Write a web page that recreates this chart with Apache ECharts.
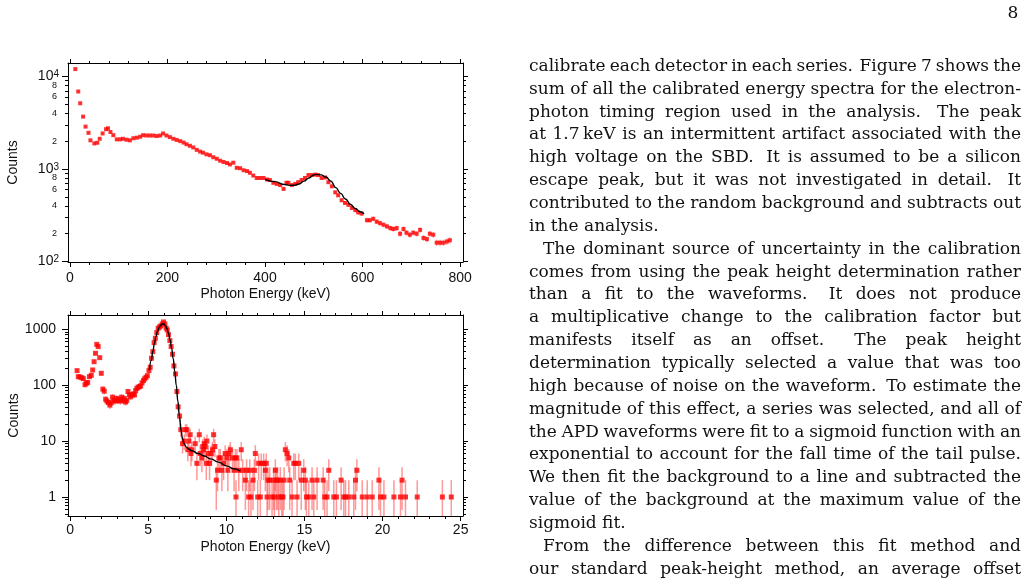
<!DOCTYPE html>
<html lang="en">
<head>
<meta charset="UTF-8"/>
<title>Calibrated energy spectra</title>
<script src="https://cdn.jsdelivr.net/npm/echarts@6/dist/echarts.min.js"></script>
<style>
    html, body { margin: 0; padding: 0; background: #fff; }
    #main { width: 1028px; height: 582px; }
</style>
</head>
<body>
<div id="main"></div>
<script type="text/javascript">
// ---- values ----
// top panel: 511 keV region spectrum (keV, counts)
var topEnergy = [11, 17, 21, 27, 32, 38, 42, 50, 56, 61, 67, 74, 78, 83, 89, 96, 103, 109, 116, 123,
    130, 137, 144, 150, 157, 164, 171, 178, 185, 191, 198, 205, 212, 219, 226, 233, 239, 246, 253, 260,
    267, 273, 280, 287, 294, 301, 308, 315, 322, 328, 335, 342, 349, 356, 363, 369, 376, 383, 390, 397,
    404, 410, 417, 424, 431, 438, 444, 448, 455, 462, 468, 475, 482, 489, 496, 503, 509, 516, 523, 530,
    537, 544, 550, 557, 564, 571, 578, 585, 591, 598, 609, 615, 622, 629, 636, 643, 650, 657, 663, 670,
    677, 684, 690, 697, 704, 711, 718, 725, 732, 738, 745, 752, 759, 766, 773, 779];
var topCounts = [12000, 6870, 5130, 3680, 2870, 2460, 2040, 1890, 1920, 2120, 2420, 2690, 2750, 2510, 2320, 2090, 2090, 2120, 2070, 2040,
    2150, 2180, 2230, 2320, 2300, 2300, 2300, 2270, 2300, 2420, 2300, 2210, 2120, 2060, 2000, 1930, 1850, 1780, 1710, 1610,
    1540, 1500, 1440, 1410, 1340, 1290, 1230, 1190, 1160, 1120, 1170, 1030, 1020, 970, 950, 910, 850, 800, 800, 800,
    770, 760, 710, 690, 670, 610, 710, 710, 670, 690, 720, 760, 800, 860, 860, 870, 860, 800, 810, 720,
    650, 560, 520, 460, 430, 410, 380, 360, 340, 330, 280, 280, 290, 270, 260, 250, 240, 230, 225, 230,
    200, 225, 205, 195, 205, 200, 220, 180, 175, 200, 195, 160, 160, 160, 165, 170];
var topFitEnergy = [400, 420, 440, 450, 460, 470, 480, 490, 500, 505, 515, 525, 535, 545, 555, 565, 575, 585, 595, 603];
var topFitCounts = [775, 730, 680, 665, 668, 690, 740, 800, 860, 875, 865, 820, 740, 630, 545, 475, 415, 375, 345, 329];

// bottom panel: low-energy spectrum (keV, counts)
var botEnergy = [0.45, 0.53, 0.64, 0.75, 0.85, 0.96, 1.04, 1.13, 1.24, 1.36, 1.45, 1.54, 1.63, 1.71, 1.80, 1.90, 2.00, 2.10, 2.19, 2.28,
    2.36, 2.45, 2.55, 2.63, 2.72, 2.80, 2.88, 2.97, 3.05, 3.14, 3.22, 3.30, 3.38, 3.47, 3.55, 3.63, 3.71, 3.80, 3.88, 3.96,
    4.05, 4.13, 4.20, 4.28, 4.36, 4.44, 4.52, 4.61, 4.70, 4.78, 4.86, 4.95, 5.05, 5.13, 5.21, 5.30, 5.38, 5.46, 5.55, 5.64,
    5.73, 5.81, 5.90, 5.98, 6.07, 6.15, 6.22, 6.30, 6.39, 6.47, 6.56, 6.65, 6.75, 6.84, 6.92, 7.01, 7.09];
var botCounts = [182, 142, 140, 136, 131, 102, 108, 112, 142, 150, 187, 263, 372, 537, 490, 311, 163, 85, 78, 56,
    52, 49, 44, 48, 61, 54, 52, 58, 53, 56, 52, 61, 54, 58, 50, 53, 77, 67, 62, 67,
    70, 67, 80, 88, 92, 94, 97, 110, 121, 130, 138, 148, 182, 209, 303, 398, 577, 690, 872, 1041,
    1100, 1147, 1245, 1352, 1245, 1050, 973, 803, 627, 490, 357, 221, 159, 77, 41, 28, 16];
var tailEnergy = [7.20, 7.31, 7.39, 7.48, 7.54, 7.61, 7.69, 7.74, 7.80, 8.01,
    8.12, 8.27, 8.33, 8.44, 8.50, 8.55, 8.59, 8.65, 8.72, 8.76,
    8.85, 8.93, 9.04, 9.12, 9.19, 9.27, 9.36, 9.44, 9.53, 9.62,
    9.72, 9.83, 9.93, 10.04, 10.10, 10.18, 10.26, 10.40, 10.50, 10.58,
    10.62, 10.68, 10.80, 10.96, 11.05, 11.22, 11.30, 11.43, 11.50, 11.58,
    11.71, 11.80, 11.86, 12.01, 12.07, 12.18, 12.24, 12.39, 12.50, 12.56,
    12.61, 12.67, 12.78, 12.93, 13.03, 13.08, 13.14, 13.20, 13.29, 13.36,
    13.46, 13.55, 13.63, 13.70, 13.78, 13.89, 14.00, 14.06, 14.21, 14.32,
    14.42, 14.53, 14.64, 14.80, 14.96, 15.06, 15.13, 15.28, 15.49, 15.60,
    15.81, 16.20, 16.30, 16.45, 16.56, 16.88, 17.05, 17.35, 17.52, 17.63,
    17.84, 18.16, 18.27, 18.36, 18.70, 19.02, 19.34, 19.77, 19.87, 20.09,
    20.73, 21.15, 21.25, 21.47, 22.22, 23.83, 24.40];
var tailCounts = [9, 10, 16, 16, 7, 10, 13, 6, 7, 9,
    4, 13, 6, 5, 8, 7, 9, 8, 4, 10,
    6, 4, 6, 7, 13, 8, 2, 3, 5, 5,
    3, 4, 6, 5, 3, 6, 7, 5, 3, 5,
    1, 5, 3, 7, 3, 2, 3, 1, 3, 1,
    2, 3, 6, 1, 4, 1, 4, 4, 3, 4,
    1, 2, 2, 1, 2, 1, 3, 2, 2, 1,
    2, 1, 1, 2, 7, 6, 5, 2, 1, 4,
    4, 1, 4, 2, 3, 2, 1, 1, 2, 1,
    2, 2, 1, 1, 3, 1, 1, 2, 1, 1,
    1, 1, 2, 3, 1, 1, 1, 2, 1, 1,
    1, 1, 2, 1, 1, 1, 1];
var botFitEnergy = [5.08, 5.2, 5.3, 5.4, 5.5, 5.6, 5.7, 5.8, 5.9, 6.0, 6.1, 6.2, 6.3, 6.4, 6.5, 6.6, 6.7, 6.8, 6.9, 7.0,
    7.1, 7.2, 7.3, 7.45, 7.6, 7.8, 8.2, 8.6, 9.0, 9.5, 10.0, 10.5, 10.9];
var botFitCounts = [185, 280, 400, 560, 740, 920, 1080, 1190, 1245, 1240, 1170, 1030, 850, 650, 460, 300, 180, 100, 52, 28,
    16, 11, 9, 7.8, 7.2, 6.7, 6.0, 5.4, 4.8, 4.2, 3.6, 3.2, 2.9];

// tick positions and labels
var topXMajor = [0, 200, 400, 600, 800];
var topXMinor = [40, 80, 120, 160, 240, 280, 320, 360, 440, 480, 520, 560, 640, 680, 720, 760];
var topYMajor = [100, 1000, 10000];
var topYMinor = [200, 300, 400, 500, 600, 700, 800, 900, 2000, 3000, 4000, 5000, 6000, 7000, 8000, 9000];
var topYSmallLabels = [200, 400, 600, 800, 2000, 4000, 6000, 8000];
var botXMajor = [0, 5, 10, 15, 20, 25];
var botXMinor = [1, 2, 3, 4, 6, 7, 8, 9, 11, 12, 13, 14, 16, 17, 18, 19, 21, 22, 23, 24];
var botYMajor = [1, 10, 100, 1000];
var botYMinor = [0.5, 0.6, 0.7, 0.8, 0.9, 2, 3, 4, 5, 6, 7, 8, 9, 20, 30, 40, 50, 60, 70, 80, 90, 200, 300, 400, 500, 600, 700, 800, 900];

var paragraphs = [
    {indent: false, open: false, lines: [
        'calibrate each detector in each series. Figure 7 shows the',
        'sum of all the calibrated energy spectra for the electron-',
        'photon timing region used in the analysis. The peak',
        'at 1.7\u2009keV is an intermittent artifact associated with the',
        'high voltage on the SBD. It is assumed to be a silicon',
        'escape peak, but it was not investigated in detail. It',
        'contributed to the random background and subtracts out',
        'in the analysis.']},
    {indent: true, open: false, lines: [
        'The dominant source of uncertainty in the calibration',
        'comes from using the peak height determination rather',
        'than a fit to the waveforms. It does not produce',
        'a multiplicative change to the calibration factor but',
        'manifests itself as an offset. The peak height',
        'determination typically selected a value that was too',
        'high because of noise on the waveform. To estimate the',
        'magnitude of this effect, a series was selected, and all of',
        'the APD waveforms were fit to a sigmoid function with an',
        'exponential to account for the fall time of the tail pulse.',
        'We then fit the background to a line and subtracted the',
        'value of the background at the maximum value of the',
        'sigmoid fit.']},
    {indent: true, open: true, lines: [
        'From the difference between this fit method and',
        'our standard peak-height method, an average offset']}
];

// ---- styling ----
var AX = '#000', TXT = '#111', SANS = '"Liberation Sans", Arial, sans-serif', SERIF = 'DejaVu Serif';
var TOP_X = [-4, 806], TOP_Y = [99, 13960], BOT_X = [-0.13, 25.15], BOT_Y = [0.457, 1800];

function zip(a, b) {
    return a.map(function (v, i) { return [v, b[i]]; });
}

function tick(vals, len) {
    return {show: true, customValues: vals, length: len, inside: false, lineStyle: {color: AX, width: 1}};
}

function xAxisSet(g, ext, major, minor, margin, nameGap) {
    var base = {type: 'value', gridIndex: g, min: ext[0], max: ext[1], splitLine: {show: false},
        axisLabel: {show: false}, axisLine: {show: false, onZero: false}};
    var line = {show: true, onZero: false, lineStyle: {color: AX, width: 1}};
    return [
        Object.assign({}, base, {position: 'bottom', axisLine: line, axisTick: tick(major, 5),
            axisLabel: {show: true, customValues: major, margin: margin, fontSize: 14, color: TXT, fontFamily: SANS,
                formatter: function (v) { return String(v); }},
            name: 'Photon Energy (keV)', nameLocation: 'middle', nameGap: nameGap,
            nameTextStyle: {fontSize: 14, color: TXT, fontFamily: SANS}}),
        Object.assign({}, base, {position: 'bottom', axisTick: tick(minor, 3)}),
        Object.assign({}, base, {position: 'top', axisLine: line, axisTick: tick(major, 4)}),
        Object.assign({}, base, {position: 'top', axisTick: tick(minor, 2)})
    ];
}

function yAxisSet(g, ext, major, minor, majorLabel, minorLabel, margin, nameGap) {
    var base = {type: 'log', gridIndex: g, min: ext[0], max: ext[1], splitLine: {show: false},
        axisLabel: {show: false}, axisLine: {show: false, onZero: false}};
    var line = {show: true, onZero: false, lineStyle: {color: AX, width: 1}};
    var left = Object.assign({}, base, {position: 'left', axisLine: line, axisTick: tick(major, 6),
        axisLabel: Object.assign({show: true, customValues: major, margin: margin, fontSize: 14, color: TXT, fontFamily: SANS}, majorLabel),
        name: 'Counts', nameLocation: 'middle', nameGap: nameGap,
        nameTextStyle: {fontSize: 14, color: TXT, fontFamily: SANS}});
    var leftMinor = Object.assign({}, base, {position: 'left', axisTick: tick(minor, 3)});
    if (minorLabel) {
        leftMinor.axisLabel = Object.assign({show: true, fontSize: 9, color: TXT, fontFamily: SANS}, minorLabel);
    }
    return [
        left,
        leftMinor,
        Object.assign({}, base, {position: 'right', axisLine: line, axisTick: tick(major, 5)}),
        Object.assign({}, base, {position: 'right', axisTick: tick(minor, 3)})
    ];
}

function errorBars(xi, yi, ext, color) {
    return {
        type: 'custom', xAxisIndex: xi, yAxisIndex: yi, silent: true,
        renderItem: function (params, api) {
            var x = api.value(0), y = api.value(1), e = Math.sqrt(y);
            var lo = Math.max(y - e, ext[0]), hi = Math.min(y + e, ext[1]);
            var p1 = api.coord([x, lo]), p2 = api.coord([x, hi]);
            return {type: 'line', shape: {x1: p1[0], y1: p1[1], x2: p2[0], y2: p2[1]},
                style: {stroke: color, lineWidth: 1.5}};
        }
    };
}

// ---- justified text column ----
var ctx = document.createElement('canvas').getContext('2d');
function measure(t, fs) { ctx.font = fs + 'px "' + SERIF + '"'; return ctx.measureText(t).width; }
var TX0 = 529, TX1 = 1021, INDENT = 14, LINE0 = 66.5, LEAD = 22.85;

function fits(size) {
    return paragraphs.every(function (p) {
        return p.lines.every(function (ln, i) {
            var words = ln.split(' ');
            var w = words.reduce(function (s, wd) { return s + measure(wd, size); }, 0) +
                (words.length - 1) * size * 0.24 + (p.indent && i === 0 ? INDENT : 0);
            return w <= TX1 - TX0;
        });
    });
}
var fs = 17.5;
while (!fits(fs) && fs > 12) fs -= 0.25;

var textEls = [];
var row = 0;
paragraphs.forEach(function (p) {
    p.lines.forEach(function (ln, i) {
        var words = ln.split(' ');
        var x0 = TX0 + (p.indent && i === 0 ? INDENT : 0);
        var widths = words.map(function (w) { return measure(w, fs); });
        var isLast = (i === p.lines.length - 1) && !p.open;
        var weights = words.slice(0, -1).map(function (w) { return /[.]$/.test(w) ? 1.6 : 1; });
        var free = TX1 - x0 - widths.reduce(function (s, v) { return s + v; }, 0);
        var wsum = weights.reduce(function (s, v) { return s + v; }, 0);
        var unit = isLast || !wsum ? measure(' ', fs) : free / wsum;
        var x = x0;
        words.forEach(function (w, k) {
            textEls.push({type: 'text', x: x, y: LINE0 + row * LEAD, silent: true,
                style: {text: w, fontSize: fs, fontFamily: SERIF, fill: '#111',
                    verticalAlign: 'middle', textVerticalAlign: 'middle'}});
            x += widths[k] + (k < weights.length ? unit * (isLast ? 1 : weights[k]) : 0);
        });
        row++;
    });
});
textEls.push({type: 'text', x: 1013, y: 14, silent: true,
    style: {text: '8', fontSize: 17, fontFamily: SERIF, fill: '#111', align: 'center', textAlign: 'center',
        verticalAlign: 'middle', textVerticalAlign: 'middle'}});

// ---- chart ----
var myChart = echarts.init(document.getElementById('main'), null, {renderer: 'canvas'});

var decadeLabel = {
    formatter: function (v) { return '{b|10}{s|' + Math.round(Math.log10(v)) + '}'; },
    rich: {
        b: {fontSize: 14, fontFamily: SANS, color: TXT, lineHeight: 14, verticalAlign: 'bottom'},
        s: {fontSize: 10, fontFamily: SANS, color: TXT, lineHeight: 10, verticalAlign: 'top', padding: [0, 0, 8, 0]}
    }
};
var digitLabel = {
    customValues: topYSmallLabels, margin: 11,
    formatter: function (v) { return String(Math.round(v / Math.pow(10, Math.floor(Math.log10(v) + 1e-9)))); }
};
var plainLabel = {formatter: function (v) { return String(v); }};

var option = {
    animation: false,
    backgroundColor: '#fff',
    grid: [
        {left: 68, top: 63, width: 395, height: 199, outerBoundsMode: 'none'},
        {left: 68, top: 315, width: 395, height: 201, outerBoundsMode: 'none'}
    ],
    xAxis: xAxisSet(0, TOP_X, topXMajor, topXMinor, 9, 25)
        .concat(xAxisSet(1, BOT_X, botXMajor, botXMinor, 7, 24)),
    yAxis: yAxisSet(0, TOP_Y, topYMajor, topYMinor, decadeLabel, digitLabel, 9, 48)
        .concat(yAxisSet(1, BOT_Y, botYMajor, botYMinor, plainLabel, null, 12, 45)),
    series: [
        errorBars(0, 0, TOP_Y, 'rgba(255,60,60,0.45)'),
        {type: 'scatter', xAxisIndex: 0, yAxisIndex: 0, data: zip(topEnergy, topCounts),
            symbol: 'rect', symbolSize: 4, itemStyle: {color: '#ff0000'}, silent: true},
        {type: 'line', xAxisIndex: 0, yAxisIndex: 0, data: zip(topFitEnergy, topFitCounts),
            showSymbol: false, smooth: true, smoothMonotone: 'x', lineStyle: {color: '#000', width: 1.4}, silent: true},

        errorBars(4, 4, BOT_Y, 'rgba(255,50,50,0.5)'),
        {type: 'scatter', xAxisIndex: 4, yAxisIndex: 4, data: zip(botEnergy.concat(tailEnergy), botCounts.concat(tailCounts)),
            symbol: 'rect', symbolSize: 5, itemStyle: {color: '#ff0000'}, silent: true},
        {type: 'line', xAxisIndex: 4, yAxisIndex: 4, data: zip(botFitEnergy, botFitCounts),
            showSymbol: false, smooth: true, smoothMonotone: 'x', lineStyle: {color: '#000', width: 1.4}, silent: true}
    ],
    graphic: {elements: textEls}
};

// error bars use the same point lists as the markers
option.series[0].data = zip(topEnergy, topCounts);
option.series[3].data = zip(botEnergy.concat(tailEnergy), botCounts.concat(tailCounts));

myChart.setOption(option);
</script>
</body>
</html>
